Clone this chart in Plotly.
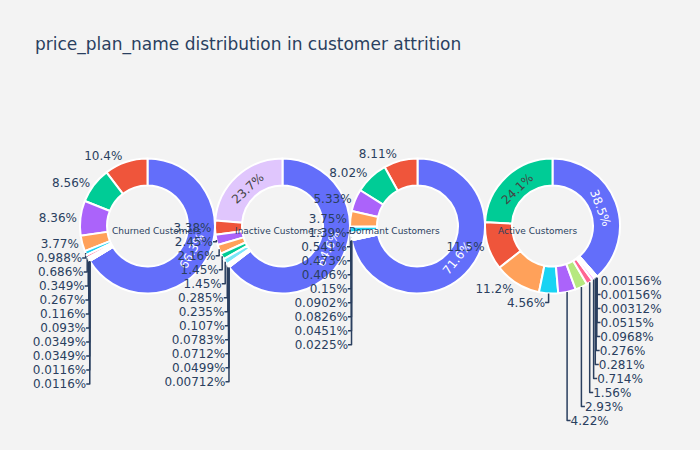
import plotly.graph_objects as go

# Price plan labels (not displayed; they only drive shared slice colours)
churned_labels = ["Plan 00", "Plan 01", "Plan 02", "Plan 03", "Plan 04", "Plan 05", "Plan 06",
                  "Plan 07", "Plan 08", "Plan 09", "Plan 10", "Plan 11", "Plan 12", "Plan 13", "Plan 14"]
churned_values = [5706, 895, 736, 719, 324, 85, 59, 30, 23, 10, 8, 3, 3, 1, 1]

inactive_labels = ["Plan 00", "Plan 13", "Plan 01", "Plan 03", "Plan 04", "Plan 02", "Plan 15",
                   "Plan 05", "Plan 06", "Plan 07", "Plan 08", "Plan 09", "Plan 10", "Plan 11"]
inactive_values = [9066, 3328, 475, 344, 303, 204, 204, 40, 33, 15, 11, 10, 7, 1]

dormant_labels = ["Plan 00", "Plan 01", "Plan 02", "Plan 03", "Plan 04", "Plan 05", "Plan 06",
                  "Plan 07", "Plan 08", "Plan 09", "Plan 10", "Plan 11", "Plan 12", "Plan 14"]
dormant_values = [9530, 1079, 1067, 709, 499, 185, 72, 63, 54, 20, 12, 11, 6, 3]

active_labels = ["Plan 00", "Plan 02", "Plan 01", "Plan 04", "Plan 05", "Plan 03", "Plan 07", "Plan 06",
                 "Plan 08", "Plan 09", "Plan 10", "Plan 11", "Plan 12", "Plan 13", "Plan 14", "Plan 15"]
active_values = [24655, 15431, 7363, 7171, 2920, 2702, 1876, 999, 457, 180, 177, 62, 33, 2, 1, 1]

group_names = ["Churned Customers", "Inactive Customers", "Dormant Customers", "Active Customers"]
annotation_x = [0.1426, 0.3685, 0.5833, 0.8481]
title_text = "price_plan_name distribution in customer attrition"

groups = [
    (churned_labels, churned_values),
    (inactive_labels, inactive_values),
    (dormant_labels, dormant_values),
    (active_labels, active_values),
]

fig = go.Figure()
n = len(groups)
for i, ((labs, vals), name) in enumerate(zip(groups, group_names)):
    fig.add_trace(go.Pie(
        labels=labs, values=vals, name=name,
        hole=0.6,
        domain=dict(x=[i / n, (i + 1) / n], y=[0, 1]),
        marker=dict(line=dict(color="white", width=2)),
        automargin=False,
    ))

annotations = []
for name, ax in zip(group_names, annotation_x):
    annotations.append(dict(
        text=name, x=ax, y=0.48, xref="paper", yref="paper",
        xanchor="center", showarrow=False, font=dict(size=9),
    ))

fig.update_layout(
    title=dict(text=title_text),
    font=dict(family="DejaVu Sans"),
    showlegend=False,
    paper_bgcolor="rgb(243,243,243)",
    plot_bgcolor="rgb(243,243,243)",
    annotations=annotations,
    margin=dict(l=80, r=80, t=100, b=98),
    width=700, height=450,
)

fig.write_html("out.html")
